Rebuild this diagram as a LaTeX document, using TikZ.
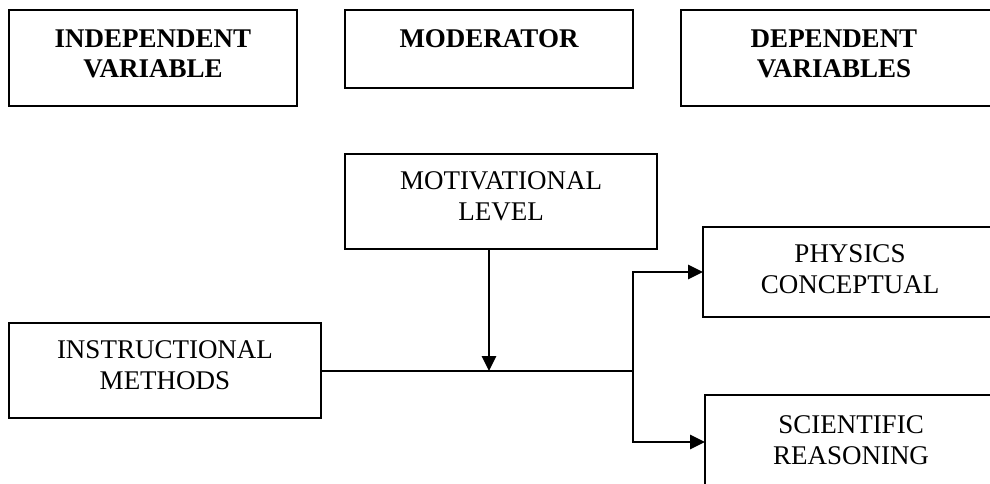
\documentclass[tikz,border=0pt]{standalone}
\usepackage{fontspec}
\setmainfont{Liberation Serif}
\usetikzlibrary{arrows.meta}
\begin{document}
\begin{tikzpicture}[x=1pt,y=-1pt,
  box/.style={draw, line width=2.8pt, inner sep=0pt, outer sep=0pt, anchor=north west},
  txt/.style={anchor=north, inner sep=0pt, align=center, font=\fontsize{27}{31.5}\selectfont},
  btxt/.style={anchor=north, inner sep=0pt, align=center, font=\fontsize{27}{29.5}\selectfont\bfseries},
  conn/.style={line width=2.8pt},
  arr/.style={line width=2.8pt, -{Triangle[length=15pt,width=14pt]}}]
\useasboundingbox (0,0) rectangle (990,483);
\clip (0,0) rectangle (990,483);
% header boxes
\node[box, minimum width=288pt, minimum height=96pt] (iv) at (9,10) {};
\node[btxt] (ivt) at (153,30) {INDEPENDENT\\VARIABLE};
\node[box, minimum width=288pt, minimum height=78pt] (mod) at (345,10) {};
\node[btxt] (modt) at (489,29.5) {MODERATOR};
\node[box, minimum width=320pt, minimum height=96pt] (dv) at (681,10) {};
\node[btxt] (dvt) at (834,30) {DEPENDENT\\VARIABLES};
% model boxes
\node[box, minimum width=312pt, minimum height=95pt] (mot) at (345,154) {};
\node[txt] (mott) at (501,171) {MOTIVATIONAL\\LEVEL};
\node[box, minimum width=300pt, minimum height=90pt] (pc) at (703,227) {};
\node[txt] (pct) at (850,244) {PHYSICS\\CONCEPTUAL};
\node[box, minimum width=312pt, minimum height=95pt] (im) at (9,323) {};
\node[txt] (imt) at (165,340) {INSTRUCTIONAL\\METHODS};
\node[box, minimum width=300pt, minimum height=94pt] (sr) at (705,395) {};
\node[txt] (srt) at (851,415) {SCIENTIFIC\\REASONING};
% connectors
\coordinate (jm) at (489,371);
\coordinate (j) at (633,371);
\draw[conn] (im.east |- j) -- (j);
\draw[arr] (mot.south -| jm) -- (jm);
\draw[arr] (j) |- (pc.west);
\draw[arr] (j) |- (sr.west);
\end{tikzpicture}
\end{document}
